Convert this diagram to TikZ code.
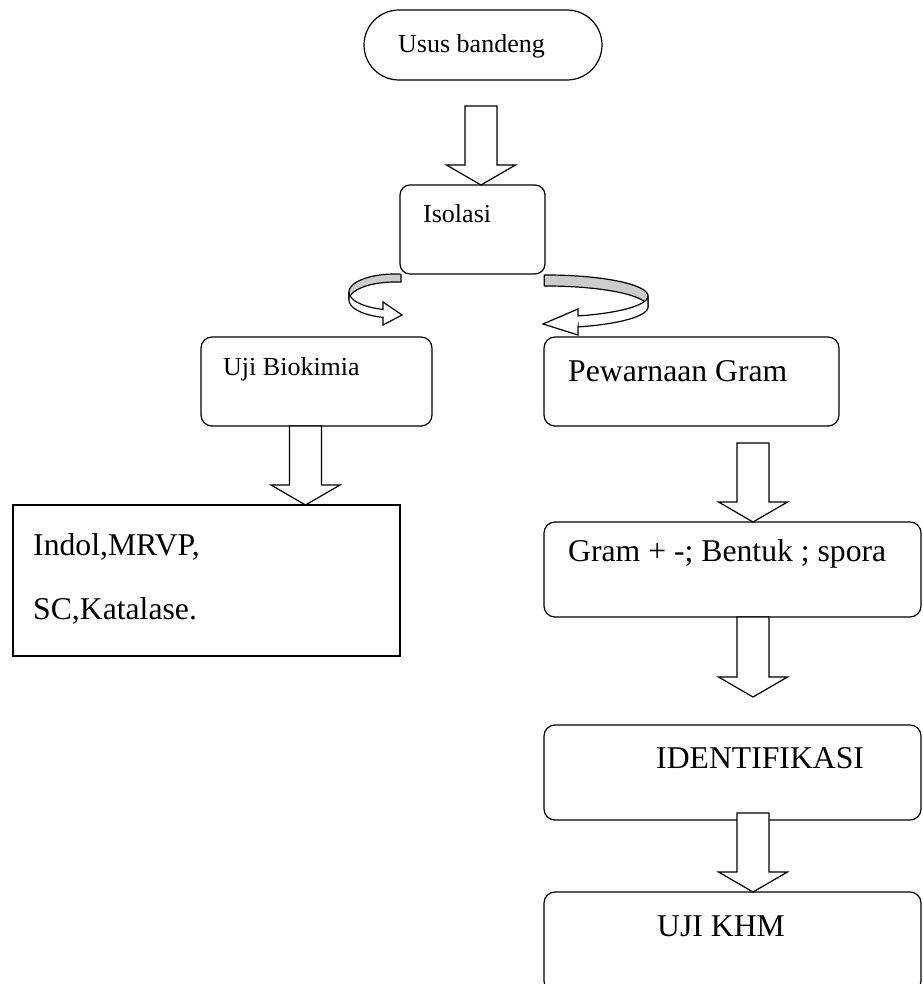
\documentclass[tikz,border=0pt]{standalone}
\usepackage{fontspec}
\setmainfont{Liberation Serif}
\usetikzlibrary{calc}
\tikzset{
  box/.style={draw, line width=1.2pt, rounded corners=11pt, inner sep=0pt, outer sep=0pt, anchor=north west},
  sqbox/.style={draw, line width=1.2pt, inner sep=0pt, outer sep=0pt, anchor=north west},
  smalltxt/.style={inner sep=0pt, anchor=base west, font=\fontsize{26}{31}\selectfont},
  bigtxt/.style={inner sep=0pt, anchor=base west, font=\fontsize{31.7}{38}\selectfont},
  barrow/.style={draw, fill=white, line width=1.2pt, line join=miter},
  ribbonback/.style={draw, fill=gray!40, line width=1.2pt, line join=round},
  ribbonfront/.style={draw, fill=white, line width=1.2pt, line join=miter},
}
\newcommand\mybarrow[2]{%
  \draw[barrow] let \p1=#1, \p2=#2 in
    (\x1-16pt,\y1) -- (\x1+16pt,\y1) -- (\x1+16pt,\y2+20pt) -- (\x1+34.5pt,\y2+20pt)
    -- (\x1,\y2) -- (\x1-34.5pt,\y2+20pt) -- (\x1-16pt,\y2+20pt) -- cycle;}
\begin{document}
\begin{tikzpicture}[x=1pt,y=-1pt]
\useasboundingbox (0,0) rectangle (922,984);
\clip (0,0) rectangle (922,984);

% boxes
\node[box, rounded corners=35pt, minimum width=238pt, minimum height=70pt] (usus) at (364,10) {};
\node[smalltxt] (tusus) at (398,53) {Usus bandeng};

\node[box, rounded corners=10pt, minimum width=145pt, minimum height=89pt] (isolasi) at (400,185) {};
\node[smalltxt] (tiso) at (423,223) {Isolasi};

\node[box, minimum width=231pt, minimum height=89pt] (uji) at (201,337) {};
\node[smalltxt] (tuji) at (223,375) {Uji Biokimia};

\node[box, minimum width=295pt, minimum height=89pt] (pew) at (544,337) {};
\node[bigtxt] (tpew) at (568,381) {Pewarnaan Gram};

\node[sqbox, minimum width=387pt, minimum height=151pt] (indol) at (13,505) {};
\node[bigtxt] (tind1) at (33,555) {Indol,MRVP,};
\node[bigtxt] (tind2) at (33,619) {SC,Katalase.};

\node[box, minimum width=377pt, minimum height=95pt] (gram) at (544,522) {};
\node[bigtxt] (tgram) at (568,561) {Gram + -; Bentuk ; spora};

\node[box, minimum width=377pt, minimum height=95pt] (ident) at (544,725) {};
\node[bigtxt] (tident) at (656,768) {IDENTIFIKASI};

\node[box, minimum width=377pt, minimum height=100pt] (khm) at (544,892) {};
\node[bigtxt] (tkhm) at (657,936) {UJI KHM};

% curved ribbon arrows
\draw[ribbonback] plot[domain=277.5:180, samples=40] ({395+46*cos(\x)},{292+18*sin(\x)})
  -- plot[domain=180:277.5, samples=40] ({395+46*cos(\x)},{300+18*sin(\x)}) -- cycle;
\draw[ribbonfront] plot[domain=180:105.1, samples=40] ({395+46*cos(\x)},{292+18*sin(\x)})
  -- (383,302) -- (402,315) -- (383,325) -- (383,317.4)
  -- plot[domain=105.1:180, samples=40] ({395+46*cos(\x)},{300+18*sin(\x)}) -- cycle;

\draw[ribbonback] plot[domain=269:360, samples=50] ({546+102*cos(\x)},{296+21*sin(\x)})
  -- plot[domain=360:269, samples=50] ({546+102*cos(\x)},{307+21*sin(\x)}) -- cycle;
\draw[ribbonfront] plot[domain=0:71.72, samples=50] ({546+102*cos(\x)},{296+21*sin(\x)})
  -- (578,309) -- (543,324) -- (578,335) -- (578,326.9)
  -- plot[domain=71.72:0, samples=50] ({546+102*cos(\x)},{307+21*sin(\x)}) -- cycle;

% block arrows
\coordinate (a1) at (481,106);
\coordinate (a2) at ($(uji.south west)+(104.5,0)$);
\coordinate (a3) at (753,443);
\coordinate (a4) at (a3 |- gram.south);
\coordinate (a4t) at (753,697);
\coordinate (a5) at (753,813);
\mybarrow{(a1)}{(a1 |- isolasi.north)}
\mybarrow{(a2)}{(a2 |- indol.north)}
\mybarrow{(a3)}{(a3 |- gram.north)}
\mybarrow{(a4)}{(a4t)}
\mybarrow{(a5)}{(a5 |- khm.north)}
\end{tikzpicture}
\end{document}
